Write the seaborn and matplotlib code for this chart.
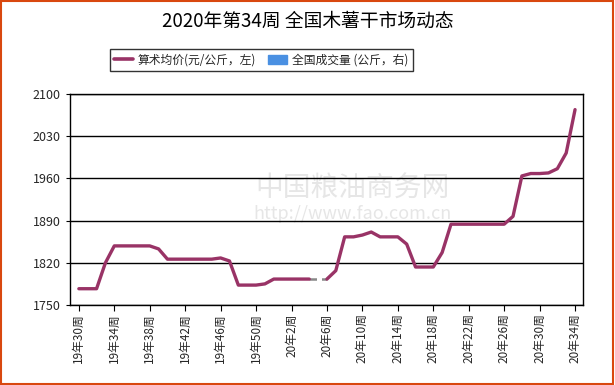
import matplotlib
matplotlib.use("Agg")
import matplotlib.pyplot as plt
import matplotlib.patches as mpatches
from matplotlib.lines import Line2D
import seaborn as sns
import numpy as np
import pandas as pd

# weeks: 2019 w30..w52, 2020 w1..w34
weeks = [f"19年{w}周" for w in range(30, 53)] + [f"20年{w}周" for w in range(1, 35)]

# average price (yuan/ton); 20年5周 has no data
price = [1777, 1777, 1777, 1820, 1848, 1848, 1848, 1848, 1848, 1843,
         1826, 1826, 1826, 1826, 1826, 1826, 1828, 1823, 1783, 1783,
         1783, 1785, 1793, 1793, 1793, 1793, 1793, np.nan, 1793, 1807,
         1863, 1863, 1866, 1871, 1863, 1863, 1863, 1851, 1813, 1813,
         1813, 1837, 1884, 1884, 1884, 1884, 1884, 1884, 1884, 1897,
         1964, 1968, 1968, 1969, 1976, 2002, 2074]

df = pd.DataFrame({"idx": np.arange(len(weeks)), "week": weeks, "price": price})

sns.set_style("white")
plt.rcParams['font.family'] = ['Noto Sans CJK SC', 'DejaVu Sans']

line_color = "#993366"
fig = plt.figure(figsize=(6.15, 3.85), dpi=100)
ax = fig.add_axes([0.1138, 0.2078, 0.8342, 0.5482])

# split at the gap so seaborn doesn't bridge it
gap = df["price"].isna()
gap_i = int(np.where(gap)[0][0])
seg1 = df.iloc[:gap_i]
seg2 = df.iloc[gap_i + 1:]
for seg in (seg1, seg2):
    sns.lineplot(data=seg, x="idx", y="price", ax=ax, color=line_color,
                 linewidth=2.4, legend=False)
# gray dashed bridge across missing week
bridge = df.iloc[[gap_i - 1, gap_i + 1]]
ax.plot(bridge["idx"], bridge["price"], color="#888888", linewidth=1.8,
        linestyle=(0, (3, 2)), zorder=1)

ax.set_ylim(1750, 2100)
ax.set_yticks(np.arange(1750, 2101, 70))
ax.set_xlim(-1.0, len(weeks) - 0.1)
tick_idx = list(range(0, len(weeks), 4))
ax.set_xticks(tick_idx)
ax.set_xticklabels([weeks[i] for i in tick_idx], rotation=90, fontsize=8.5)
ax.tick_params(axis="y", labelsize=9, length=3, direction="out", left=True, color="black")
ax.tick_params(axis="x", length=4, direction="out", bottom=True, color="black", pad=2)
ax.yaxis.grid(True, color="black", linewidth=1)
ax.xaxis.grid(False)
ax.set_axisbelow(True)
for s in ax.spines.values():
    s.set_color("black")
    s.set_linewidth(1)
ax.set_xlabel("")
ax.set_ylabel("")

# watermark
ax.text(0.55, 0.55, "中国粮油商务网", transform=ax.transAxes, fontsize=20,
        color="#e6e6e6", ha="center", va="center", zorder=0)
ax.text(0.55, 0.43, "http://www.fao.com.cn", transform=ax.transAxes, fontsize=13,
        color="#e6e6e6", ha="center", va="center", zorder=0)

fig.text(0.5, 0.945, "2020年第34周 全国木薯干市场动态", ha="center", va="center",
         fontsize=13.5, color="black")

handles = [Line2D([0], [0], color=line_color, linewidth=2.6),
           mpatches.Patch(color="#4A90E2")]
leg = fig.legend(handles, ["算术均价(元/公斤，左)", "全国成交量 (公斤，右)"],
                 loc="center", bbox_to_anchor=(0.425, 0.844), ncol=2, fontsize=8.5,
                 frameon=True, fancybox=False, edgecolor="black",
                 handlelength=1.6, handleheight=0.9, columnspacing=1.0,
                 borderpad=0.4, handletextpad=0.4)
leg.get_frame().set_linewidth(1)

fig.patches.append(mpatches.Rectangle((0.002, 0.003), 0.995, 0.994, transform=fig.transFigure,
                                      fill=False, edgecolor="#D9480F", linewidth=1.5))

fig.savefig("out.png", dpi=100)
